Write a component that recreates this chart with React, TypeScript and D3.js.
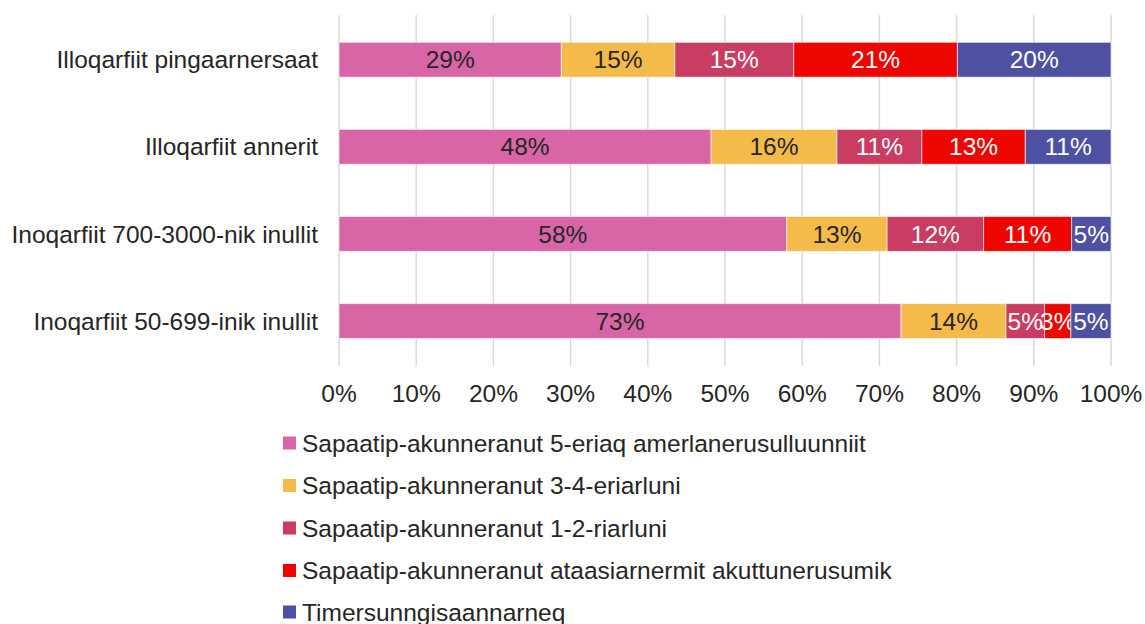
import React from "react";
import * as d3 from "d3";

const categories = [
  "Illoqarfiit pingaarnersaat",
  "Illoqarfiit annerit",
  "Inoqarfiit 700-3000-nik inullit",
  "Inoqarfiit 50-699-inik inullit",
];
const seriesNames = [
  "Sapaatip-akunneranut 5-eriaq amerlanerusulluunniit",
  "Sapaatip-akunneranut 3-4-eriarluni",
  "Sapaatip-akunneranut 1-2-riarluni",
  "Sapaatip-akunneranut ataasiarnermit akuttunerusumik",
  "Timersunngisaannarneq",
];
const s5plus = [28.8, 48.2, 58.0, 72.8];
const s34 = [14.7, 16.3, 13.0, 13.6];
const s12 = [15.4, 11.0, 12.5, 5.0];
const sRare = [21.2, 13.4, 11.4, 3.4];
const sNone = [19.9, 11.1, 5.1, 5.2];
const labels5plus = ["29%", "48%", "58%", "73%"];
const labels34 = ["15%", "16%", "13%", "14%"];
const labels12 = ["15%", "11%", "12%", "5%"];
const labelsRare = ["21%", "13%", "11%", "3%"];
const labelsNone = ["20%", "11%", "5%", "5%"];
const xTicks = [0, 10, 20, 30, 40, 50, 60, 70, 80, 90, 100];

const colors = ["#D866A6", "#F4BA4A", "#C93D62", "#EE0500", "#4E50A2"];
const textColors = ["#262626", "#262626", "#ffffff", "#ffffff", "#ffffff"];
const FONT = "Liberation Sans, Arial, sans-serif";
const FS = 24.5;

export default function App() {
  const W = 1145, H = 624;
  const x = d3.scaleLinear().domain([0, 100]).range([339, 1111]);
  const y = d3.scaleBand<string>().domain(categories).range([16.2, 364.6]).paddingInner(0.6).paddingOuter(0.3);
  const series = [s5plus, s34, s12, sRare, sNone];
  const seriesLabels = [labels5plus, labels34, labels12, labelsRare, labelsNone];
  const table = categories.map((c, i) => {
    const o: any = { cat: c };
    series.forEach((s, k) => (o[k] = s[i]));
    return o;
  });
  const stack = d3.stack<any>().keys(series.map((_, k) => String(k)))(table);
  const legendY = [443, 485.5, 528, 570.5, 612];

  return (
    <svg width={W} height={H} style={{ position: "absolute", left: 0, top: 0, background: "#fff" }} fontFamily={FONT}>
      {xTicks.map((t) => (
        <line key={t} x1={x(t)} x2={x(t)} y1={15} y2={366} stroke="#d9d9d9" strokeWidth={1.5} />
      ))}
      {stack.map((layer, k) =>
        layer.map((d, i) => {
          const x0 = x(d[0]), x1 = x(d[1]);
          const yy = y(categories[i])!;
          const bh = y.bandwidth();
          return (
            <g key={k + "-" + i}>
              <rect x={x0} y={yy} width={x1 - x0} height={bh} fill={colors[k]} stroke="#ffffff" strokeOpacity={0.6} strokeWidth={1} />
              <text x={(x0 + x1) / 2} y={yy + bh / 2} dy="0.35em" textAnchor="middle" fontSize={FS} fill={textColors[k]}>
                {seriesLabels[k][i]}
              </text>
            </g>
          );
        })
      )}
      {categories.map((c) => (
        <text key={c} x={318} y={y(c)! + y.bandwidth() / 2} dy="0.35em" textAnchor="end" fontSize={FS} fill="#262626">
          {c}
        </text>
      ))}
      {xTicks.map((t) => (
        <text key={"l" + t} x={x(t)} y={402} textAnchor="middle" fontSize={FS} fill="#262626">
          {t + "%"}
        </text>
      ))}
      {seriesNames.map((n, k) => (
        <g key={n}>
          <rect x={283} y={legendY[k] - 6.5} width={13} height={13} fill={colors[k]} />
          <text x={302} y={legendY[k]} dy="0.35em" fontSize={FS} fill="#262626">
            {n}
          </text>
        </g>
      ))}
    </svg>
  );
}
